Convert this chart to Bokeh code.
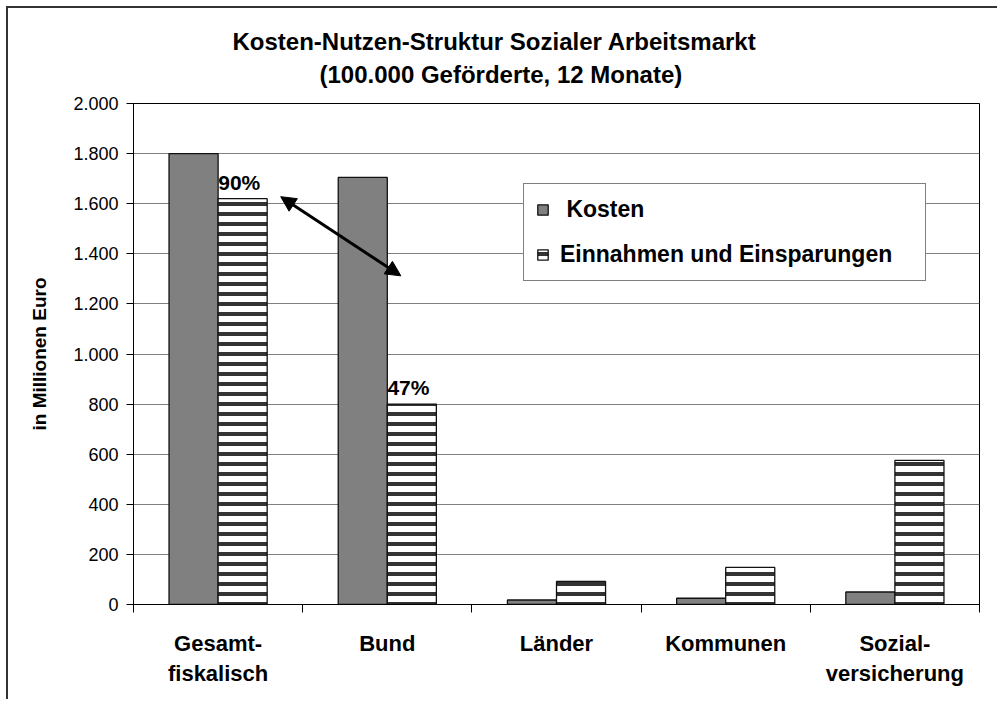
from bokeh.plotting import figure
from bokeh.models import (FixedTicker, Range1d, Legend, LegendItem, Arrow, NormalHead,
                          Title, ColumnDataSource)
from bokeh.transform import dodge
from bokeh.core.properties import value
from bokeh.embed import file_html
from bokeh.resources import INLINE

# ---- data ----
categories = ["Gesamt-\nfiskalisch", "Bund", "Länder", "Kommunen", "Sozial-\nversicherung"]
kosten = [1800, 1705, 18, 25, 50]
einnahmen = [1620, 800, 92, 148, 575]
series_names = [" Kosten", "Einnahmen und Einsparungen"]
y_ticks = [0, 200, 400, 600, 800, 1000, 1200, 1400, 1600, 1800, 2000]
y_tick_labels = ["0", "200", "400", "600", "800", "1.000", "1.200", "1.400", "1.600", "1.800", "2.000"]
title_lines = ["Kosten-Nutzen-Struktur Sozialer Arbeitsmarkt", "(100.000 Geförderte, 12 Monate)"]
y_title = "in Millionen Euro"
annotated = [0, 1]  # categories with a percentage label

FONT = "Liberation Sans"

x_center = [i + 0.5 for i in range(len(categories))]
src = ColumnDataSource(dict(x=x_center, kosten=kosten, einnahmen=einnahmen))
pct_src = ColumnDataSource(dict(
    x=[x_center[i] for i in annotated],
    y=[einnahmen[i] for i in annotated],
    t=[f"{round(einnahmen[i] / kosten[i] * 100)}%" for i in annotated],
))

p = figure(width=991, height=693, output_backend="svg", toolbar_location=None,
           x_range=Range1d(0, len(categories)), y_range=Range1d(0, 2000),
           min_border_left=125, min_border_right=20, min_border_top=95, min_border_bottom=97)
p.styles = {"margin-left": "6px", "margin-top": "6px",
            "border-left": "2px solid #333333", "border-top": "2px solid #333333"}

p.outline_line_color = "black"
p.outline_line_width = 1
p.xgrid.grid_line_color = None
p.ygrid.grid_line_color = "#808080"
p.ygrid.grid_line_width = 1

bw = 0.29
r1 = p.vbar(x=dodge("x", -bw / 2, range=p.x_range), top="kosten", bottom=0, width=bw, source=src,
            fill_color="#808080", line_color="#111111", line_width=1.3)
r2 = p.vbar(x=dodge("x", bw / 2, range=p.x_range), top="einnahmen", bottom=0, width=bw, source=src,
            fill_color="white", hatch_pattern="horizontal_line", hatch_color="#333333",
            hatch_scale=10, hatch_weight=4, line_color="#111111", line_width=1.3)

p.text(x=dodge("x", bw / 2 - 0.02, range=p.x_range), y="y", text="t", source=pct_src,
       text_align="center", text_baseline="bottom", y_offset=-5,
       text_font=value(FONT), text_font_style="bold", text_font_size="21px", text_color="black")

# y axis
ya = p.yaxis[0]
ya.ticker = FixedTicker(ticks=y_ticks)
ya.major_label_overrides = {t: l for t, l in zip(y_ticks, y_tick_labels)}
ya.major_label_text_font = FONT
ya.major_label_text_font_size = "18px"
ya.major_label_text_color = "black"
ya.major_tick_out = 7
ya.major_tick_in = 0
ya.minor_tick_line_color = None
ya.axis_line_color = "black"
ya.major_label_standoff = 8
ya.axis_label = y_title
ya.axis_label_text_font = FONT
ya.axis_label_text_font_style = "bold"
ya.axis_label_text_font_size = "19px"
ya.axis_label_text_color = "black"
ya.axis_label_standoff = 20

# x axis (labels at centers, tick marks at category boundaries)
xa = p.xaxis[0]
xa.ticker = FixedTicker(ticks=x_center, minor_ticks=list(range(len(categories) + 1)))
xa.major_label_overrides = {x: c for x, c in zip(x_center, categories)}
xa.major_tick_line_color = None
xa.major_tick_out = 0
xa.major_tick_in = 0
xa.minor_tick_out = 8
xa.minor_tick_in = 0
xa.minor_tick_line_color = "black"
xa.axis_line_color = "black"
xa.major_label_text_font = FONT
xa.major_label_text_font_style = "bold"
xa.major_label_text_font_size = "22px"
xa.major_label_text_color = "black"
xa.major_label_text_line_height = 1.2
xa.major_label_standoff = 18

# double-headed arrow between the two percentages
p.add_layout(Arrow(start=NormalHead(size=15, fill_color="black", line_color="black"),
                   end=NormalHead(size=15, fill_color="black", line_color="black"),
                   x_start=0.87, y_start=1628, x_end=1.58, y_end=1312,
                   line_width=3, line_color="black"))

legend = Legend(items=[LegendItem(label=series_names[0], renderers=[r1]),
                       LegendItem(label=series_names[1], renderers=[r2])],
                location=(390, 323), orientation="vertical", margin=0,
                border_line_color="black", border_line_width=1,
                background_fill_color="white", background_fill_alpha=1,
                label_text_font=FONT, label_text_font_style="bold", label_text_font_size="23px",
                label_text_color="black",
                glyph_width=13, glyph_height=13, label_standoff=11, padding=12,
                spacing=18, label_height=24, label_width=353)
p.add_layout(legend, "center")

# title: two lines, the second (closest to the frame) added first
p.add_layout(Title(text=title_lines[1], align="left", offset=186, standoff=28, vertical_align="top",
                   text_font=FONT, text_font_style="bold", text_font_size="24px",
                   text_color="black"), "above")
p.add_layout(Title(text=title_lines[0], align="left", offset=99, standoff=-16, vertical_align="bottom",
                   text_font=FONT, text_font_style="bold", text_font_size="24px",
                   text_color="black"), "above")

open("out.html", "w").write(file_html(p, INLINE))
